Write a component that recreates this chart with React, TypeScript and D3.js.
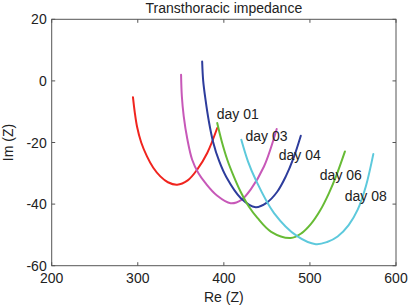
import React from "react";
import * as d3 from "d3";

const title = "Transthoracic impedance";
const xLabel = "Re (Z)";
const yLabel = "Im (Z)";
const xTicks = [200, 300, 400, 500, 600];
const yTicks = [20, 0, -20, -40, -60];

const day01Re = [294.4, 296.5, 299.1, 304.0, 310.7, 318.0, 326.2, 335.0, 345.7, 358.0, 369.0, 380.7, 392.3];
const day01Im = [-5.3, -10.2, -14.8, -20.0, -24.5, -28.2, -31.0, -32.9, -33.7, -32.3, -28.8, -23.4, -15.3];

const day03Re = [350.3, 351.2, 353.4, 357.5, 363.2, 370.5, 378.7, 392.0, 407.8, 420.5, 431.1, 446.6, 461.4];
const day03Im = [2.0, -5.0, -11.5, -18.8, -25.6, -30.0, -33.2, -37.2, -39.7, -38.6, -35.3, -27.8, -15.6];

const day04Re = [374.8, 376.0, 378.7, 382.5, 387.5, 394.5, 403.0, 419.5, 437.0, 450.0, 462.0, 472.0, 481.0, 489.4];
const day04Im = [6.3, 0.0, -6.1, -13.0, -19.8, -26.0, -31.3, -38.0, -41.0, -39.5, -36.0, -31.0, -25.0, -17.8];

const day06Re = [392.3, 397.5, 404.0, 411.5, 419.5, 429.0, 439.0, 455.0, 477.7, 490.0, 501.0, 512.0, 522.0, 531.0, 540.7];
const day06Im = [-13.7, -19.6, -25.6, -31.0, -36.0, -40.8, -44.5, -49.0, -51.0, -49.5, -46.5, -42.0, -36.5, -30.5, -22.9];

const day08Re = [420.3, 428.0, 437.0, 458.3, 485.6, 506.9, 520.0, 532.2, 545.0, 555.5, 565.0, 573.7];
const day08Im = [-19.1, -26.1, -32.1, -42.9, -50.5, -53.0, -52.3, -50.5, -46.8, -41.8, -34.2, -23.7];

const seriesNames = ["day 01", "day 03", "day 04", "day 06", "day 08"];
const seriesColors = ["#f0241e", "#c758b8", "#2d3c9c", "#67bb35", "#5dc9dc"];
const seriesRe = [day01Re, day03Re, day04Re, day06Re, day08Re];
const seriesIm = [day01Im, day03Im, day04Im, day06Im, day08Im];

// label anchor positions in data units (text start, baseline)
const labelRe = [391.7, 425.2, 463.8, 511.5, 540.5];
const labelIm = [-12.5, -19.5, -25.8, -32.2, -38.9];

export default function App() {
  const W = 408;
  const H = 308;
  const x = d3.scaleLinear().domain([200, 600]).range([51.7, 396]);
  const y = d3.scaleLinear().domain([-60, 20]).range([265.7, 19.3]);
  const font = "'Liberation Sans', Arial, Helvetica, sans-serif";
  const fs = 14;
  const axisColor = "#555";
  const textColor = "#222";
  const tick = 3.5;

  const line = d3
    .line<[number, number]>()
    .x((d) => x(d[0]))
    .y((d) => y(d[1]))
    .curve(d3.curveCatmullRom.alpha(0.5));

  const [x0, x1] = x.range();
  const [y0, y1] = y.range();

  return (
    <svg
      width={W}
      height={H}
      style={{ position: "absolute", left: 0, top: 0, background: "#fff" }}
      fontFamily={font}
    >
      <rect x={0} y={0} width={W} height={H} fill="#fff" />
      {seriesRe.map((re, i) => {
        const pts: [number, number][] = re.map((v, j) => [v, seriesIm[i][j]]);
        return (
          <path
            key={seriesNames[i]}
            d={line(pts) || ""}
            fill="none"
            stroke={seriesColors[i]}
            strokeWidth={2}
            strokeLinecap="round"
          />
        );
      })}
      {seriesNames.map((n, i) => (
        <text
          key={n}
          x={x(labelRe[i])}
          y={y(labelIm[i])}
          fontSize={fs}
          fill={textColor}
        >
          {n}
        </text>
      ))}
      <rect
        x={x0}
        y={y1}
        width={x1 - x0}
        height={y0 - y1}
        fill="none"
        stroke={axisColor}
        strokeWidth={1}
      />
      {xTicks.map((t) => (
        <g key={"xt" + t}>
          <line x1={x(t)} x2={x(t)} y1={y0} y2={y0 - tick} stroke={axisColor} />
          <line x1={x(t)} x2={x(t)} y1={y1} y2={y1 + tick} stroke={axisColor} />
          <text
            x={x(t)}
            y={y0 + 17}
            fontSize={fs}
            textAnchor="middle"
            fill={textColor}
          >
            {t}
          </text>
        </g>
      ))}
      {yTicks.map((t) => (
        <g key={"yt" + t}>
          <line x1={x0} x2={x0 + tick} y1={y(t)} y2={y(t)} stroke={axisColor} />
          <line x1={x1} x2={x1 - tick} y1={y(t)} y2={y(t)} stroke={axisColor} />
          <text
            x={x0 - 5}
            y={y(t) + 5}
            fontSize={fs}
            textAnchor="end"
            fill={textColor}
          >
            {t}
          </text>
        </g>
      ))}
      <text
        x={(x0 + x1) / 2}
        y={12.7}
        fontSize={fs}
        textAnchor="middle"
        fill={textColor}
      >
        {title}
      </text>
      <text
        x={(x0 + x1) / 2}
        y={301.5}
        fontSize={fs}
        textAnchor="middle"
        fill={textColor}
      >
        {xLabel}
      </text>
      <text
        transform={`translate(12.5, ${(y0 + y1) / 2}) rotate(-90)`}
        fontSize={fs}
        textAnchor="middle"
        fill={textColor}
      >
        {yLabel}
      </text>
    </svg>
  );
}
